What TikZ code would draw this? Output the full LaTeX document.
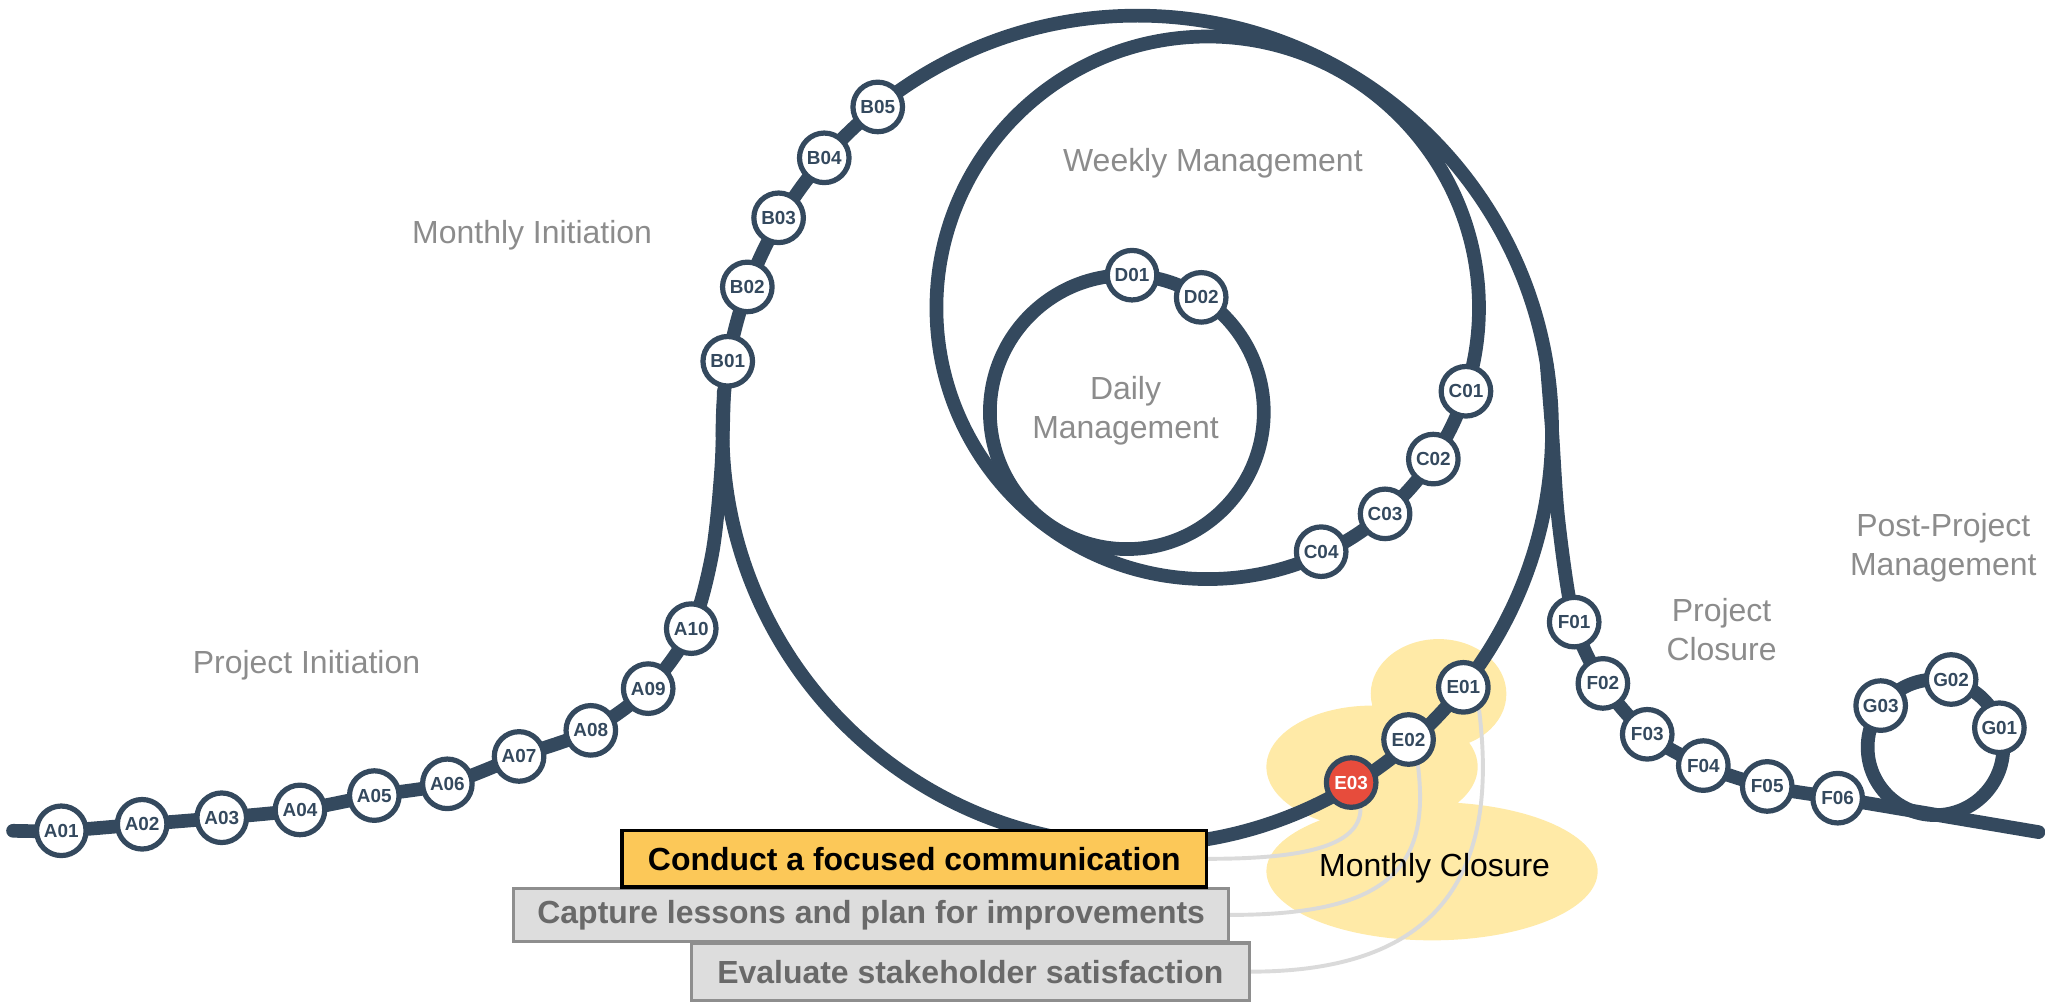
\documentclass[tikz,border=0pt]{standalone}
\usepackage{fontspec}
\setmainfont{Liberation Sans}
\usetikzlibrary{backgrounds}
\definecolor{track}{RGB}{52,73,94}
\definecolor{alert}{RGB}{231,76,60}
\definecolor{cloudyellow}{RGB}{255,234,167}
\definecolor{hot}{RGB}{252,200,88}
\definecolor{boxgrey}{RGB}{221,221,221}
\definecolor{edgegrey}{RGB}{142,142,142}
\definecolor{textgrey}{RGB}{105,105,105}
\definecolor{labelgrey}{RGB}{140,140,140}
\definecolor{linkgrey}{RGB}{218,218,218}

\begin{document}
\begin{tikzpicture}[x=1pt,y=-1pt,
  station/.style={circle,draw=track,fill=white,line width=4pt,minimum size=38pt,inner sep=0pt,
    text=track,font=\fontsize{14.5}{15}\selectfont\bfseries},
  rail/.style={draw=track,line width=10.5pt,line cap=round},
  phaselabel/.style={text=labelgrey,font=\fontsize{24.5}{30}\selectfont,align=center},
  tiebox/.style={fill=boxgrey,draw=edgegrey,line width=2.5pt,text=textgrey,inner sep=0pt,
    font=\fontsize{24.5}{28}\selectfont\bfseries},
  link/.style={draw=linkgrey,line width=3pt}]
\useasboundingbox (0,0) rectangle (1568,768);

\foreach \n/\x/\y in {A01/47/637,A02/109/632,A03/170/627,A04/230/621,A05/287/610,
  A06/343/601,A07/398/580,A08/453/560,A09/497/528,A10/530/482,
  B01/558/277,B02/573/220,B03/597/167,B04/632/121,B05/673/82,
  C01/1124/300,C02/1099/352,C03/1062/394,C04/1013/423,D01/868/211,D02/921/228,
  E01/1122/527,E02/1080/567,F01/1207/477,F02/1229/524,F03/1263/563,
  F04/1306/587,F05/1355/603,F06/1409/612,G01/1533/558,G02/1496/521,G03/1442/541}
 {\node[station] (\n) at (\x,\y) {\n};}
\node[station,fill=alert,text=white] (E03) at (1036,600) {E03};

\node[phaselabel] (pinit) at (235,510) {Project Initiation};
\node[phaselabel] (minit) at (408,180) {Monthly Initiation};
\node[phaselabel] (wman) at (930,125) {Weekly Management};
\node[phaselabel] (dman) at (863,315) {Daily\\Management};
\node[phaselabel] (pclose) at (1320,483) {Project\\Closure};
\node[phaselabel] (ppm) at (1490,420) {Post-Project\\Management};
\node[font=\fontsize{24.5}{30}\selectfont] (mclose) at (1100,666) {Monthly Closure};

\node[tiebox,minimum width=548pt,minimum height=41pt] (capture) at (668,701.5) {Capture lessons and plan for improvements};
\node[tiebox,minimum width=428pt,minimum height=44pt] (evaluate) at (744,745) {Evaluate stakeholder satisfaction};
\node[tiebox,fill=hot,draw=black,text=black,minimum width=448pt,minimum height=43pt] (conduct) at (701,658.5) {Conduct a focused communication};

\begin{scope}[on background layer]
\fill[cloudyellow] (1103,532) ellipse[x radius=52,y radius=42]
  (1052,588) ellipse[x radius=81,y radius=47]
  (1098,668) ellipse[x radius=127,y radius=53];
\draw[link] (E03.-70) .. controls +(0,30) and +(70,0) .. (conduct.east);
\draw[link] (E02.-70) .. controls +(10,80) and +(120,0) .. (capture.east);
\draw[link] (E01.-55) .. controls +(15,120) and +(150,0) .. (evaluate.east);
\draw[rail] (872,330) circle[radius=318];
\draw[rail] (926,236) circle[radius=208];
\draw[rail] (864,316) circle[radius=105];
\draw[rail] (1484,573) circle[radius=52];
\draw[rail] plot[smooth] coordinates {(10,637) (A01.center) (A02.center) (A03.center)
  (A04.center) (A05.center) (A06.center) (A07.center) (A08.center) (A09.center)
  (A10.center) (546,425) (553,360) (555,300)};
\draw[rail] plot[smooth] coordinates {(1186,280) (1190,330) (1195,400) (F01.center)
  (F02.center) (F03.center) (F04.center) (F05.center) (F06.center) (1486,625) (1563,638)};
\end{scope}
\end{tikzpicture}
\end{document}
